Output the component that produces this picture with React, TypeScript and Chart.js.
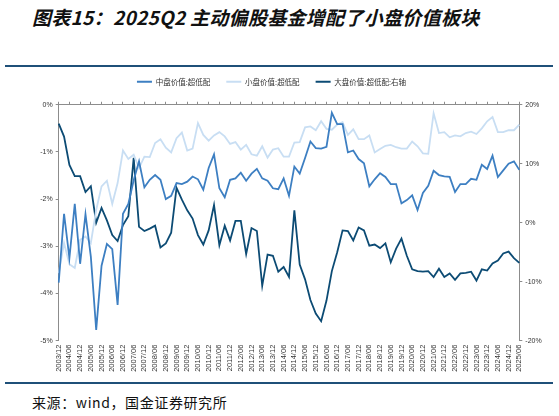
import React, { useEffect, useRef } from "react";
import { Chart, registerables } from "chart.js";

Chart.register(...registerables);

const quarters: string[] = [
  "2003/12",
  "2004/03","2004/06","2004/09","2004/12",
  "2005/03","2005/06","2005/09","2005/12",
  "2006/03","2006/06","2006/09","2006/12",
  "2007/03","2007/06","2007/09","2007/12",
  "2008/03","2008/06","2008/09","2008/12",
  "2009/03","2009/06","2009/09","2009/12",
  "2010/03","2010/06","2010/09","2010/12",
  "2011/03","2011/06","2011/09","2011/12",
  "2012/03","2012/06","2012/09","2012/12",
  "2013/03","2013/06","2013/09","2013/12",
  "2014/03","2014/06","2014/09","2014/12",
  "2015/03","2015/06","2015/09","2015/12",
  "2016/03","2016/06","2016/09","2016/12",
  "2017/03","2017/06","2017/09","2017/12",
  "2018/03","2018/06","2018/09","2018/12",
  "2019/03","2019/06","2019/09","2019/12",
  "2020/03","2020/06","2020/09","2020/12",
  "2021/03","2021/06","2021/09","2021/12",
  "2022/03","2022/06","2022/09","2022/12",
  "2023/03","2023/06","2023/09","2023/12",
  "2024/03","2024/06","2024/09","2024/12",
  "2025/03","2025/06",
];

// 中盘价值:超低配 (left axis, %)
const midValue: number[] = [
  -3.77, -2.31, -3.25, -2.10, -3.37, -2.32, -3.22, -4.77, -3.41, -2.95,
  -3.06, -4.24, -2.31, -2.10, -1.60, -1.20, -1.75, -1.59, -1.49, -1.59,
  -2.00, -1.93, -1.66, -1.68, -1.63, -1.52, -1.58, -1.80, -1.34, -1.05,
  -1.77, -1.96, -1.59, -1.56, -1.44, -1.61, -1.46, -1.36, -1.56, -1.61,
  -1.77, -1.79, -1.56, -1.93, -1.31, -1.46, -1.13, -0.78, -0.92, -0.93,
  -0.89, -0.17, -0.41, -0.41, -1.01, -0.97, -1.15, -1.24, -1.73, -1.58,
  -1.45, -1.53, -1.68, -1.68, -2.09, -2.02, -1.92, -2.23, -1.87, -1.72,
  -1.40, -1.49, -1.52, -1.53, -1.85, -1.68, -1.68, -1.57, -1.59, -1.27,
  -1.36, -1.08, -1.53, -1.39, -1.25, -1.20, -1.38,
];

// 小盘价值:超低配 (left axis, %)
const smallValue: number[] = [
  -3.57, -2.93, -3.38, -3.46, -2.86, -2.79, -2.93, -2.23, -1.73, -1.61,
  -2.10, -1.66, -0.97, -1.15, -1.06, -1.34, -1.10, -1.11, -0.81, -0.73,
  -0.91, -1.01, -0.71, -0.59, -0.97, -0.93, -0.39, -0.64, -0.76, -0.65,
  -0.58, -0.67, -0.83, -0.79, -0.95, -0.85, -1.05, -1.08, -0.88, -1.12,
  -0.95, -0.92, -1.10, -1.10, -0.80, -0.79, -0.48, -0.46, -0.54, -0.35,
  -0.51, -0.53, -0.42, -0.37, -0.64, -0.52, -0.73, -0.73, -0.65, -1.01,
  -0.94, -0.87, -0.85, -0.90, -0.93, -0.93, -0.78, -0.88, -1.03, -1.04,
  -0.18, -0.60, -0.58, -0.69, -0.65, -0.67, -0.60, -0.57, -0.62, -0.50,
  -0.35, -0.26, -0.58, -0.58, -0.54, -0.54, -0.42,
];

// 大盘价值:超低配:右轴 (right axis, %)
const largeValue: number[] = [
  16.8, 14.6, 9.8, 7.9, 7.9, 5.2, 6.2, 0.0, 2.5, 0.4,
  -2.1, -3.1, -0.4, 1.1, 11.0, -0.7, -1.4, -1.0, -0.5, -4.2,
  -3.5, -1.7, 5.9, 3.9, 2.1, 0.7, -2.1, -3.7, -1.3, 3.0,
  -3.8, -0.5, -3.0, 0.3, 0.3, -5.3, -0.9, -1.4, -10.7, -5.4,
  -5.6, -8.3, -7.5, -9.2, 2.1, -7.1, -9.6, -13.1, -15.4, -16.7,
  -13.2, -8.2, -5.0, -1.3, -1.4, -3.0, -0.8, -1.3, -3.9, -3.7,
  -4.3, -3.5, -6.7, -4.4, -2.7, -5.6, -7.9, -8.2, -8.3, -8.2,
  -9.2, -7.8, -9.2, -8.6, -9.7, -8.6, -8.5, -8.3, -9.8, -7.9,
  -8.1, -6.9, -6.4, -5.2, -4.9, -6.0, -6.8,
];

const seriesNames: string[] = ["中盘价值:超低配", "小盘价值:超低配", "大盘价值:超低配:右轴"];
const seriesColors: string[] = ["#3d7fc2", "#c8def3", "#0c4b74"];

const CJK = '"Noto Sans CJK SC", "Noto Sans", sans-serif';
const LATIN = '"Liberation Sans", Arial, sans-serif';

export default function App() {
  const canvasRef = useRef<HTMLCanvasElement | null>(null);

  useEffect(() => {
    if (!canvasRef.current) return;
    const axisGrey = "#8c8c8c";
    const chart = new Chart(canvasRef.current, {
      type: "line",
      data: {
        labels: quarters,
        datasets: [
          {
            label: seriesNames[0],
            data: midValue,
            borderColor: seriesColors[0],
            backgroundColor: seriesColors[0],
            borderWidth: 1.8,
            pointRadius: 0,
            tension: 0,
            yAxisID: "y",
            xAxisID: "x",
          },
          {
            label: seriesNames[1],
            data: smallValue,
            borderColor: seriesColors[1],
            backgroundColor: seriesColors[1],
            borderWidth: 1.8,
            pointRadius: 0,
            tension: 0,
            yAxisID: "y",
            xAxisID: "x",
          },
          {
            label: seriesNames[2],
            data: largeValue,
            borderColor: seriesColors[2],
            backgroundColor: seriesColors[2],
            borderWidth: 1.8,
            pointRadius: 0,
            tension: 0,
            yAxisID: "y1",
            xAxisID: "x",
          },
        ],
      },
      options: {
        animation: false,
        responsive: true,
        maintainAspectRatio: false,
        layout: { padding: { top: 62, left: 0, right: 0, bottom: 0 } },
        plugins: {
          tooltip: { enabled: false },
          legend: {
            display: true,
            position: "top",
            labels: {
              usePointStyle: true,
              pointStyle: "line",
              pointStyleWidth: 15,
              boxWidth: 15,
              boxHeight: 7,
              padding: 16,
              color: "#333",
              font: { size: 7.5, family: CJK },
            },
          },
        },
        scales: {
          x2: {
            type: "category",
            position: "top",
            offset: false,
            grid: {
              display: true,
              drawOnChartArea: false,
              drawTicks: true,
              tickLength: 3,
              tickColor: (ctx: any) => (ctx.index % 2 === 0 ? axisGrey : "rgba(0,0,0,0)"),
            },
            border: { display: true, color: axisGrey, width: 1 },
            ticks: { display: false, autoSkip: false },
            afterFit: (scale: any) => {
              scale.height = 9.25;
            },
          },
          x: {
            type: "category",
            position: "bottom",
            offset: false,
            grid: { display: false, drawTicks: false },
            border: { display: false },
            ticks: {
              autoSkip: false,
              maxRotation: 90,
              minRotation: 90,
              padding: 4,
              color: "#333",
              font: { size: 7.5, family: LATIN },
              callback: (_v: any, i: number) => (i % 2 === 0 ? quarters[i] : ""),
            },
            afterFit: (scale: any) => {
              scale.height = 43.3;
            },
          },
          y: {
            type: "linear",
            position: "left",
            min: -5,
            max: 0,
            grid: {
              drawOnChartArea: false,
              drawTicks: true,
              tickLength: 3,
              color: axisGrey,
            },
            border: { display: true, color: axisGrey, width: 1 },
            ticks: {
              stepSize: 1,
              padding: 3,
              color: "#333",
              font: { size: 7, family: LATIN },
              callback: (v: any) => `${v}%`,
            },
            afterFit: (scale: any) => {
              scale.width = 58.7;
            },
          },
          y1: {
            type: "linear",
            position: "right",
            min: -20,
            max: 20,
            grid: {
              drawOnChartArea: false,
              drawTicks: true,
              tickLength: 3,
              color: axisGrey,
            },
            border: { display: true, color: axisGrey, width: 1 },
            ticks: {
              stepSize: 10,
              padding: 3,
              color: "#333",
              font: { size: 7, family: LATIN },
              callback: (v: any) => `${v}%`,
            },
            afterFit: (scale: any) => {
              scale.width = 23.7;
            },
          },
        },
      },
    });
    return () => chart.destroy();
  }, []);

  const rule: React.CSSProperties = {
    position: "absolute",
    left: 5,
    width: 548,
    height: 2,
    background: "#1f5079",
  };

  return (
    <div
      style={{
        position: "absolute",
        left: 0,
        top: 0,
        width: 559,
        height: 416,
        background: "#fff",
        overflow: "hidden",
      }}
    >
      <div
        style={{
          position: "absolute",
          left: 32,
          top: 3,
          fontFamily: CJK,
          fontSize: 19,
          fontWeight: 700,
          fontStyle: "italic",
          letterSpacing: 0.3,
          color: "#111",
          whiteSpace: "nowrap",
          lineHeight: "28px",
        }}
      >
        图表15：2025Q2 主动偏股基金增配了小盘价值板块
      </div>
      <div style={{ ...rule, top: 65 }} />
      <div style={{ position: "absolute", left: 0, top: 0, width: 543, height: 384 }}>
        <canvas ref={canvasRef} />
      </div>
      <div style={{ ...rule, top: 382 }} />
      <div
        style={{
          position: "absolute",
          left: 32,
          top: 392,
          fontFamily: CJK,
          fontSize: 14,
          letterSpacing: 0.6,
          color: "#111",
          whiteSpace: "nowrap",
          lineHeight: "20px",
        }}
      >
        来源：wind，国金证券研究所
      </div>
    </div>
  );
}
